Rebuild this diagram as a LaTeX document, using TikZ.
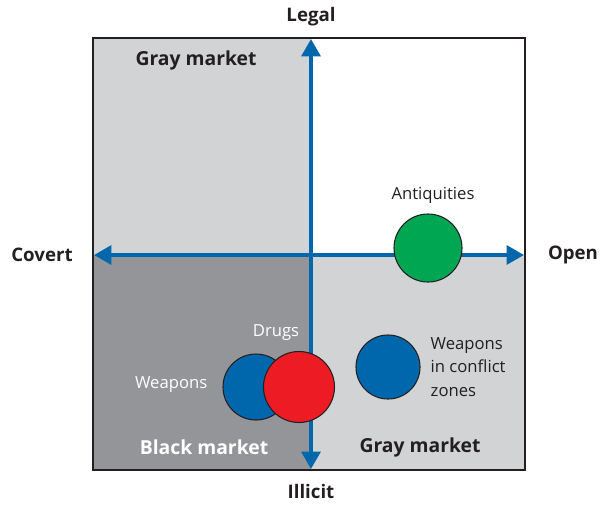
\documentclass[tikz,border=0pt]{standalone}
\usepackage{fontspec}
\setmainfont{Open Sans}
\usepackage{xcolor}
\usetikzlibrary{arrows.meta, positioning}

\definecolor{axisblue}{HTML}{0067AC}
\definecolor{lightgray}{HTML}{D1D3D4}
\definecolor{darkgray}{HTML}{939598}
\definecolor{framegray}{HTML}{231F20}
\definecolor{drugred}{HTML}{ED1C24}
\definecolor{antgreen}{HTML}{00A651}

\begin{document}
\begin{tikzpicture}[
    x=0.75pt, y=-0.75pt,
    axis/.style={line width=3pt, draw=axisblue,
        -{Triangle[length=13pt,width=14pt]}},
    ball/.style={circle, draw=framegray, line width=0.8pt,
        minimum size=#1*0.75pt, inner sep=0pt},
    pole/.style={font=\fontsize{14}{16}\selectfont\bfseries, text=framegray},
    zone/.style={font=\fontsize{14.5}{16}\selectfont\bfseries},
    item/.style={font=\fontsize{12.5}{17.5}\selectfont}
]
    \useasboundingbox (0,0) rectangle (600,504);

    % quadrants
    \fill[lightgray] (93,38) rectangle (311,255);
    \fill[darkgray] (93,255) rectangle (311,470);
    \fill[lightgray] (311,255) rectangle (525,470);

    % axes
    \coordinate (O) at (311,255);
    \coordinate (T) at (311,39);
    \coordinate (B) at (311,469);
    \coordinate (L) at (94,255);
    \coordinate (R) at (524,255);
    \draw[axis] (O) -- (T);
    \draw[axis] (O) -- (B);
    \draw[axis] (O) -- (L);
    \draw[axis] (O) -- (R);

    % frame
    \draw[line width=1.5pt, draw=framegray] (93,38) rectangle (525,470);

    % poles
    \node[pole] (legal) at (311,17) {Legal};
    \node[pole] (illicit) at (311,491) {Illicit};
    \node[pole] (covert) at (42,255) {Covert};
    \node[pole] (open) at (573,255) {Open};

    % zones
    \node[zone, text=framegray] (gray1) at (196,60) {Gray market};
    \node[zone, text=white] (black) at (204,447) {Black market};
    \node[zone, text=framegray] (gray2) at (420,447) {Gray market};

    % items
    \node[ball=68, fill=antgreen] (antiq) at (428,248) {};
    \node[item, text=framegray] (antiqlabel) at (433,195) {Antiquities};

    \node[ball=64, fill=axisblue] (conflict) at (388,367) {};
    \node[item, text=framegray, align=left, anchor=west] (conflictlabel)
        at (426,367) {Weapons\\in conflict\\zones};

    \node[ball=66, fill=axisblue] (weapons) at (256,387) {};
    \node[ball=71, fill=drugred] (drugs) at (299,387) {};
    \node[item, text=white, anchor=east] (weaponslabel) at (212,385) {Weapons};
    \node[item, text=white] (drugslabel) at (276,333) {Drugs};
\end{tikzpicture}
\end{document}
